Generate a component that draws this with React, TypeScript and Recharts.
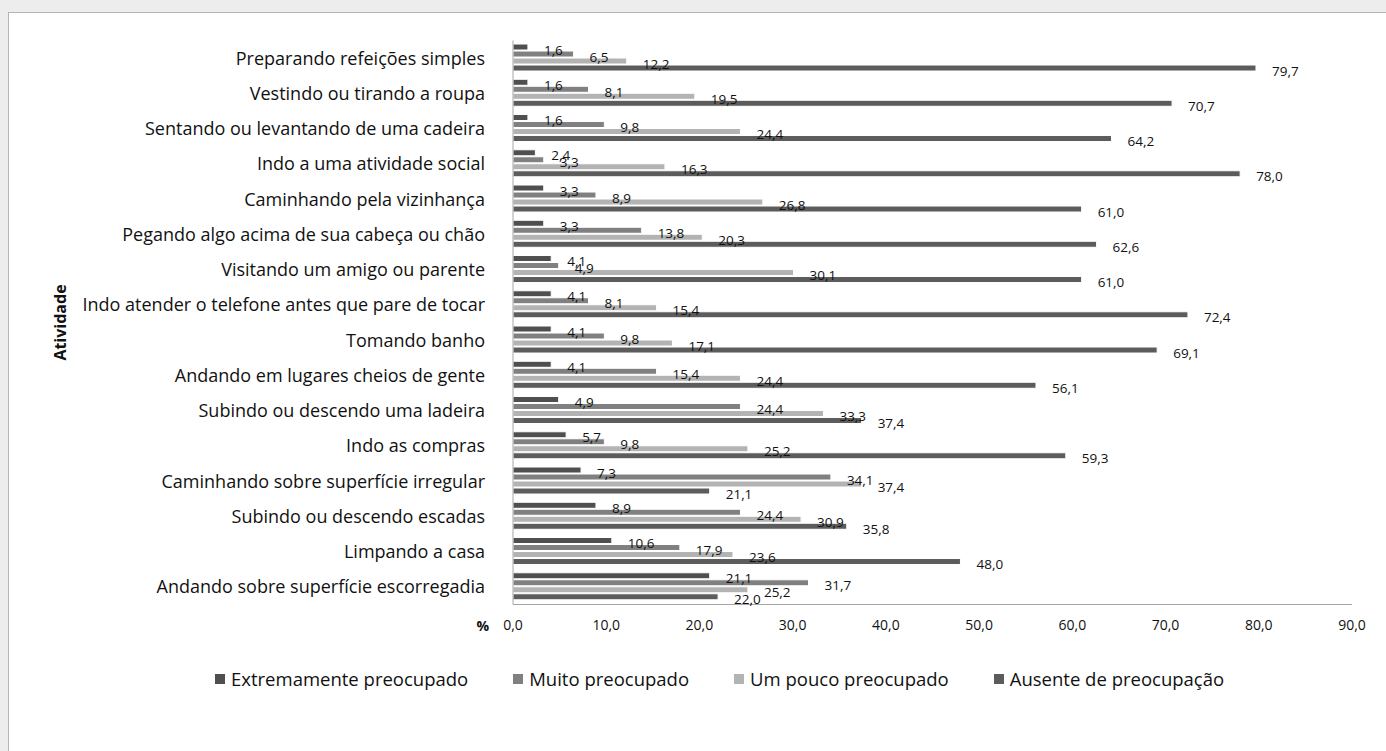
import { BarChart, Bar, XAxis, YAxis, LabelList } from 'recharts';

const atividades = [
  'Preparando refeições simples',
  'Vestindo ou tirando a roupa',
  'Sentando ou levantando de uma cadeira',
  'Indo a uma atividade social',
  'Caminhando pela vizinhança',
  'Pegando algo acima de sua cabeça ou chão',
  'Visitando um amigo ou parente',
  'Indo atender o telefone antes que pare de tocar',
  'Tomando banho',
  'Andando em lugares cheios de gente',
  'Subindo ou descendo uma ladeira',
  'Indo as compras',
  'Caminhando sobre superfície irregular',
  'Subindo ou descendo escadas',
  'Limpando a casa',
  'Andando sobre superfície escorregadia',
];

const extremamente = [1.6, 1.6, 1.6, 2.4, 3.3, 3.3, 4.1, 4.1, 4.1, 4.1, 4.9, 5.7, 7.3, 8.9, 10.6, 21.1];
const muito = [6.5, 8.1, 9.8, 3.3, 8.9, 13.8, 4.9, 8.1, 9.8, 15.4, 24.4, 9.8, 34.1, 24.4, 17.9, 31.7];
const umPouco = [12.2, 19.5, 24.4, 16.3, 26.8, 20.3, 30.1, 15.4, 17.1, 24.4, 33.3, 25.2, 37.4, 30.9, 23.6, 25.2];
const ausente = [79.7, 70.7, 64.2, 78.0, 61.0, 62.6, 61.0, 72.4, 69.1, 56.1, 37.4, 59.3, 21.1, 35.8, 48.0, 22.0];

const xTicks = [0, 10, 20, 30, 40, 50, 60, 70, 80, 90];

const series = [
  { key: 'extremamente', name: 'Extremamente preocupado', color: '#4f4f4f' },
  { key: 'muito', name: 'Muito preocupado', color: '#808080' },
  { key: 'umPouco', name: 'Um pouco preocupado', color: '#b3b3b3' },
  { key: 'ausente', name: 'Ausente de preocupação', color: '#5c5c5c' },
];

const data = atividades.map((atividade, i) => ({
  atividade,
  extremamente: extremamente[i],
  muito: muito[i],
  umPouco: umPouco[i],
  ausente: ausente[i],
}));

const FONT = '"Open Sans", sans-serif';
const fmt = (v: number) => v.toFixed(1).replace('.', ',');

const renderLabel = (props: any) => {
  const { x, y, width, height, value } = props;
  return (
    <text
      x={x + width + 16}
      y={y + height / 2 + 4}
      fontSize={13.5}
      fontFamily={FONT}
      fill="#111"
      dominantBaseline="middle"
    >
      {fmt(value)}
    </text>
  );
};

// legenda fora do grafico para nao empurrar a area de plotagem
function Legenda() {
  return (
    <div
      style={{
        position: 'absolute',
        left: 215,
        top: 666,
        display: 'flex',
        fontFamily: FONT,
        fontSize: 18.5,
        color: '#111',
        whiteSpace: 'nowrap',
      }}
    >
      {series.map((s) => (
        <div key={s.key} style={{ display: 'flex', alignItems: 'center', marginRight: 45 }}>
          <span style={{ width: 10, height: 10, background: s.color, display: 'inline-block', marginRight: 6 }} />
          <span>{s.name}</span>
        </div>
      ))}
    </div>
  );
}

export default function App() {
  return (
    <div style={{ position: 'fixed', left: 0, top: 0, width: 1386, height: 751, background: '#ededed', overflow: 'hidden' }}>
      <div
        style={{
          position: 'absolute',
          left: 8,
          top: 12,
          width: 1400,
          height: 800,
          background: '#fff',
          border: '1px solid #b5b5b5',
        }}
      />
      <div style={{ position: 'absolute', left: 0, top: 0 }}>
        <BarChart
          width={1386}
          height={751}
          data={data}
          layout="vertical"
          margin={{ top: 40.5, right: 34, bottom: 116.5, left: 13 }}
          barCategoryGap="10%"
          barGap={1}
        >
          <XAxis
            type="number"
            domain={[0, 90]}
            ticks={xTicks}
            tickFormatter={fmt}
            axisLine={{ stroke: '#a6a6a6' }}
            tickLine={false}
            tickSize={0}
            tickMargin={16}
            height={30}
            tick={{ fontSize: 14, fontFamily: FONT, fill: '#111' }}
            label={{
              content: (p: any) => (
                <text
                  x={p.viewBox.x - 24}
                  y={p.viewBox.y + 23}
                  textAnchor="end"
                  dominantBaseline="middle"
                  fontSize={14}
                  fontWeight="bold"
                  fontFamily={FONT}
                  fill="#111"
                >
                  %
                </text>
              ),
            }}
          />
          <YAxis
            type="category"
            dataKey="atividade"
            width={500}
            axisLine={{ stroke: '#a6a6a6' }}
            tickLine={false}
            tickMargin={22}
            interval={0}
            tick={{ fontSize: 18, fontFamily: FONT, fill: '#111' }}
            label={{
              value: 'Atividade',
              angle: -90,
              position: 'insideLeft',
              offset: 47,
              style: { fontSize: 16, fontWeight: 'bold', fontFamily: FONT, fill: '#111', textAnchor: 'middle' },
            }}
          />
          {series.map((s) => (
            <Bar
              key={s.key}
              dataKey={s.key}
              name={s.name}
              fill={s.color}
              stroke="#fff"
              strokeWidth={1}
              isAnimationActive={false}
            >
              <LabelList dataKey={s.key} content={renderLabel} />
            </Bar>
          ))}
        </BarChart>
      </div>
      <Legenda />
    </div>
  );
}
